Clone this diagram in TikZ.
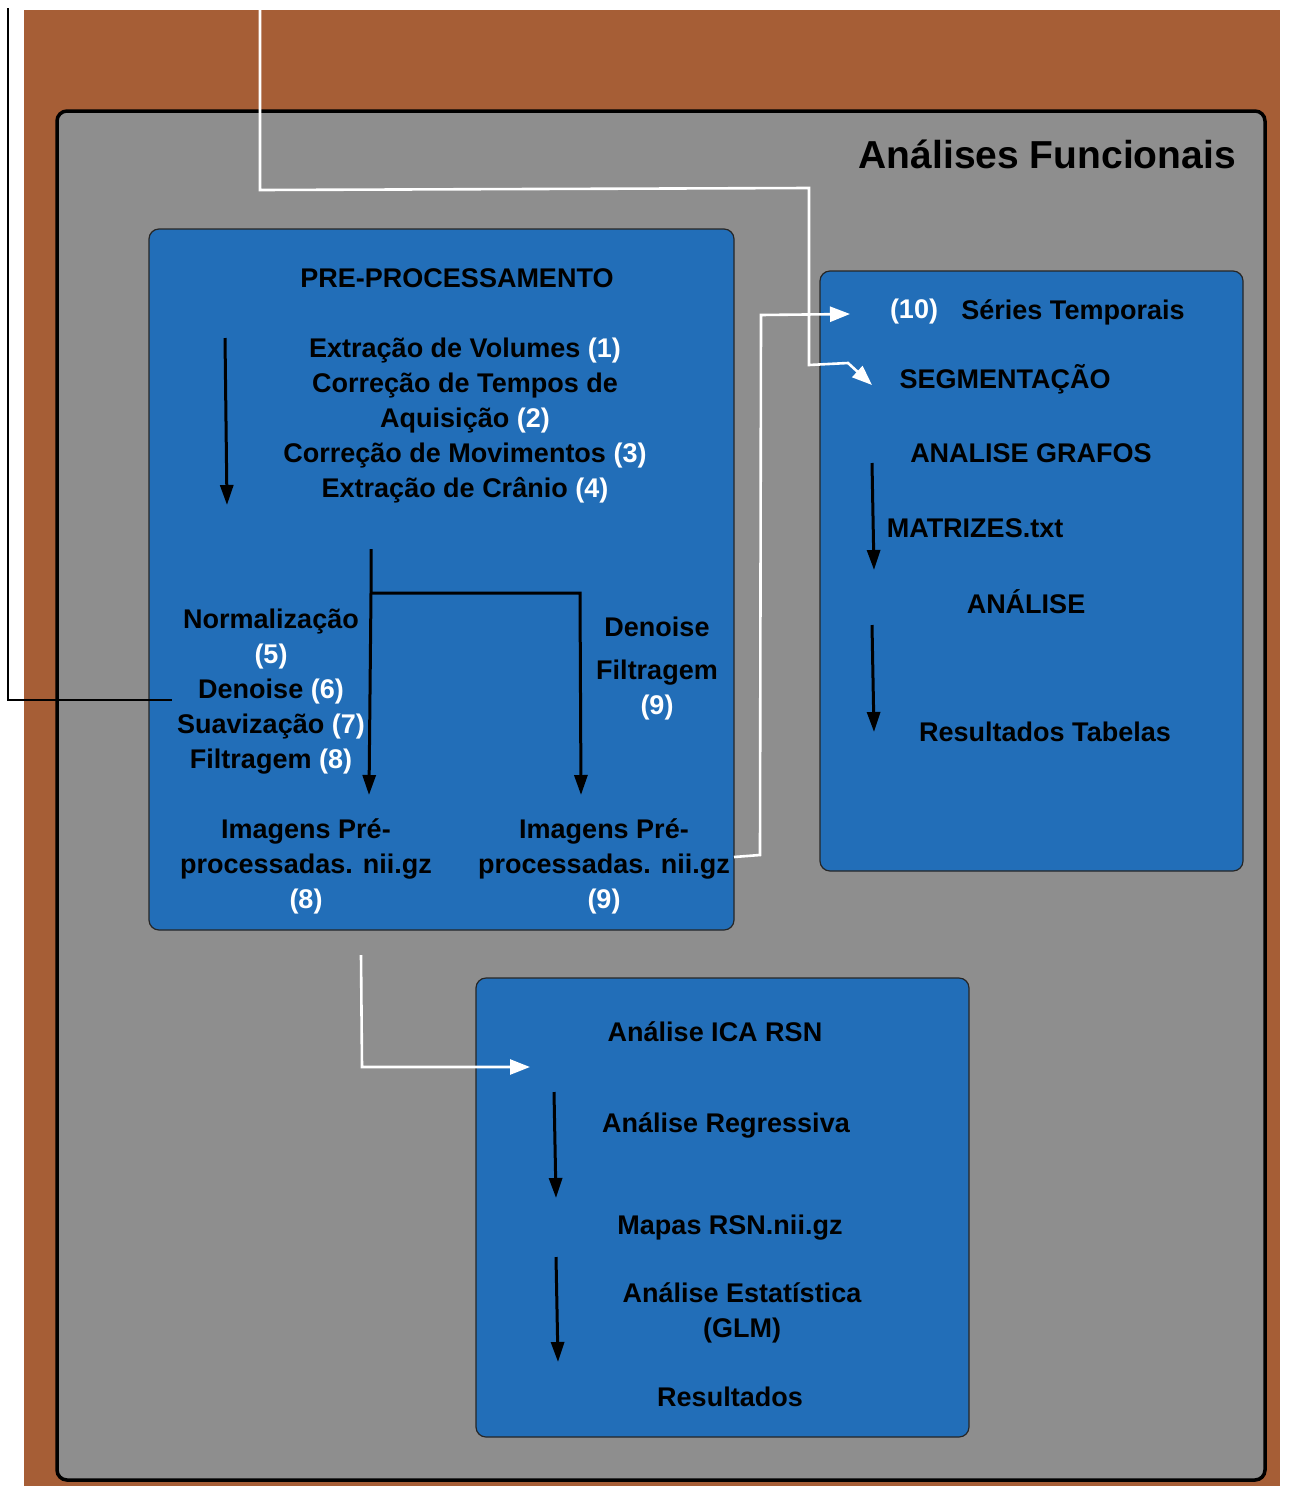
\documentclass[tikz,border=0pt]{standalone}
\usepackage{fontspec}
\setmainfont{Liberation Sans}
\usetikzlibrary{arrows.meta}
\definecolor{rust}{RGB}{166,94,54}
\definecolor{panel}{RGB}{142,142,142}
\definecolor{stage}{RGB}{34,110,184}
\newcommand\wnum[1]{\textcolor{white}{#1}}
\begin{document}
\begin{tikzpicture}[x=1pt,y=-1pt,
  lbl/.style={font=\fontsize{27}{35}\selectfont\bfseries, text=black, inner sep=0pt, align=center},
  title/.style={font=\fontsize{39}{44}\selectfont\bfseries, text=black, inner sep=0pt},
  stagebox/.style={fill=stage, draw=black!85, line width=1.2pt, rounded corners=10pt},
  flow/.style={-{Triangle[length=20pt,width=13pt]}, line width=3pt, black},
  link/.style={-{Triangle[length=20pt,width=15pt]}, line width=2.6pt, white},
  feed/.style={line width=2.6pt, black},
]
\useasboundingbox (0,0) rectangle (1288,1486);
\fill[white] (0,0) rectangle (1288,1486);

% backgrounds
\fill[rust] (24,10) rectangle (1280,1486);
\draw[fill=panel, line width=3.5pt, rounded corners=10pt] (57,111) rectangle (1265,1480);
\node[title, anchor=east] (ttl) at (1236,154) {Análises Funcionais};

% stage panels
\path[stagebox] (149,229) rectangle (734,930);
\path[stagebox] (820,271) rectangle (1243,871);
\path[stagebox] (476,978) rectangle (969,1437);

% pre-processing panel
\node[lbl] (pre) at (457,278) {PRE-PROCESSAMENTO};
\node[lbl] (steps) at (465,421) {Extração de Volumes \wnum{(1)}\\Correção de Tempos de\\Aquisição \wnum{(2)}\\Correção de Movimentos \wnum{(3)}\\Extração de Crânio \wnum{(4)}};
\node[lbl] (normal) at (271,692) {Normalização\\\wnum{(5)}\\Denoise \wnum{(6)}\\Suavização \wnum{(7)}\\Filtragem \wnum{(8)}};
\node[lbl] (alt) at (657,669) {Denoise\\[8pt]Filtragem\\\wnum{(9)}};
\node[lbl] (img8) at (306,866) {Imagens Pré-\\processadas. nii.gz\\\wnum{(8)}};
\node[lbl] (img9) at (604,866) {Imagens Pré-\\processadas. nii.gz\\\wnum{(9)}};

\coordinate (s1) at (225,338);
\coordinate (e1) at (227,505);
\draw[flow] (s1) -- (e1);
\coordinate (split) at (371,549);
\coordinate (fork) at (371,593);
\coordinate (e8) at (369,795);
\coordinate (turn) at (580,593);
\coordinate (e9) at (581,795);
\draw[flow] (split) -- (fork) -- (e8);
\draw[flow] (fork) -- (turn) -- (e9);

% time-series / graph panel
\node[lbl] (ten) at (914,312) {\wnum{(10)}};
\node[lbl] (series) at (1073,312) {Séries Temporais};
\node[lbl] (seg) at (1005,379) {SEGMENTAÇÃO};
\node[lbl] (graph) at (1031,453) {ANALISE GRAFOS};
\node[lbl] (mat) at (975,528) {MATRIZES.txt};
\node[lbl] (anal) at (1026,602) {ANÁLISE};
\node[lbl] (tab) at (1045,732) {Resultados Tabelas};
\coordinate (g1) at (872,463);
\coordinate (g2) at (874,570);
\coordinate (g3) at (872,625);
\coordinate (g4) at (874,732);
\draw[flow] (g1) -- (g2);
\draw[flow] (g3) -- (g4);

% ICA panel
\node[lbl] (ica) at (715,1032) {Análise ICA RSN};
\node[lbl] (reg) at (726,1125) {Análise Regressiva};
\node[lbl] (maps) at (730,1228) {Mapas RSN.nii.gz};
\node[lbl] (glm) at (742,1313) {Análise Estatística\\(GLM)};
\node[lbl] (res) at (730,1397) {Resultados};
\coordinate (i1) at (554,1092);
\coordinate (i2) at (556,1198);
\coordinate (i3) at (556,1257);
\coordinate (i4) at (558,1362);
\draw[flow] (i1) -- (i2);
\draw[flow] (i3) -- (i4);

% links between panels
\coordinate (srcA) at (260,10);
\coordinate (segIn) at (872,385);
\draw[link] (srcA) -- (260,190) -- (809,188) -- (809,365) -- (848,363) -- (segIn);
\coordinate (out9) at (734,857);
\coordinate (seriesIn) at (850,314);
\draw[link] (out9) -- (760,855) -- (761,315) -- (seriesIn);
\coordinate (out8) at (361,955);
\coordinate (icaIn) at (530,1067);
\draw[link] (out8) -- (362,1067) -- (icaIn);
\coordinate (srcB) at (8,8);
\coordinate (normIn) at (172,700);
\draw[feed] (srcB) -- (8,700) -- (normIn);
\end{tikzpicture}
\end{document}
